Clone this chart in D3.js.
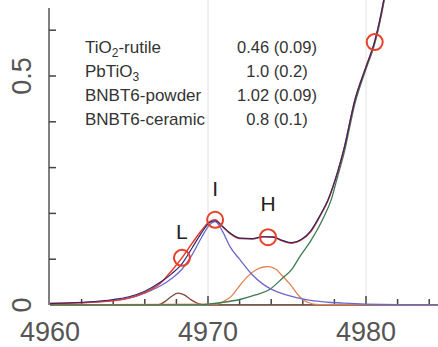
<!DOCTYPE html>
<html>
<head>
<meta charset="utf-8">
<script src="https://cdn.jsdelivr.net/npm/d3@7"></script>
<style>
  html, body { margin: 0; padding: 0; background: #fff; }
  svg { display: block; font-family: "Liberation Sans", Arial, sans-serif; }
</style>
</head>
<body>
<div id="chart"></div>
<script>
// ── Data ────────────────────────────────────────────────────
var energy = [4960, 4962, 4964, 4965, 4966, 4967, 4967.7, 4968.35, 4969, 4969.6, 4970.1, 4970.45,
  4970.9, 4971.4, 4972, 4972.8, 4973.5, 4974.1, 4974.7, 4975.3, 4975.9, 4976.5, 4977.1, 4977.6,
  4978.2, 4978.6, 4979.3, 4980, 4980.55, 4981.1, 4981.4];
var measured = [0.004, 0.005, 0.009, 0.015, 0.027, 0.048, 0.075, 0.103, 0.135, 0.163, 0.182, 0.186,
  0.172, 0.156, 0.145, 0.144, 0.149, 0.149, 0.140, 0.135, 0.142, 0.160, 0.195, 0.229,
  0.290, 0.340, 0.448, 0.520, 0.574, 0.660, 0.720];
var fitTotal = [0.003, 0.006, 0.012, 0.018, 0.030, 0.050, 0.068, 0.090, 0.125, 0.158, 0.180, 0.184,
  0.172, 0.157, 0.146, 0.145, 0.149, 0.148, 0.141, 0.136, 0.143, 0.162, 0.196, 0.230,
  0.290, 0.340, 0.448, 0.520, 0.576, 0.662, 0.722];

var peakIE = [4960, 4962, 4964, 4965, 4966, 4967, 4967.7, 4968.35, 4969, 4969.6, 4970.1, 4970.45,
  4970.9, 4971.4, 4972, 4972.8, 4973.5, 4974.1, 4974.7, 4975.3, 4975.9, 4976.5, 4977.6, 4978.6,
  4980, 4982, 4984.6];
var peakI = [0.003, 0.005, 0.010, 0.015, 0.026, 0.042, 0.058, 0.078, 0.110, 0.148, 0.175, 0.182,
  0.162, 0.127, 0.100, 0.066, 0.045, 0.033, 0.025, 0.019, 0.014, 0.010, 0.006, 0.004,
  0.002, 0.001, 0.001];

var peakLE = [4960, 4966.8, 4967.3, 4967.7, 4968.1, 4968.5, 4968.9, 4969.3, 4969.8, 4984.6];
var peakL = [0, 0, 0.008, 0.019, 0.026, 0.022, 0.012, 0.004, 0, 0];

var peakHE = [4960, 4970.5, 4971, 4971.5, 4972, 4972.5, 4973, 4973.5, 4973.85, 4974.3, 4974.7,
  4975.2, 4975.8, 4976.3, 4977, 4984.6];
var peakH = [0, 0.002, 0.008, 0.020, 0.042, 0.062, 0.076, 0.083, 0.084, 0.078, 0.064,
  0.045, 0.018, 0.006, 0.001, 0];

var edgeE = [4960, 4969, 4970, 4971, 4972, 4973, 4973.9, 4974.7, 4975.3, 4975.8, 4976.5, 4977.3,
  4977.8, 4978.2, 4978.6, 4979.3, 4980, 4980.55, 4981.1, 4981.4];
var edge = [0, 0, 0.002, 0.006, 0.012, 0.022, 0.034, 0.058, 0.078, 0.105, 0.140, 0.190,
  0.230, 0.280, 0.330, 0.440, 0.515, 0.570, 0.655, 0.715];

var markLabels = ["L", "I", "H", ""];
var markE = [4968.35, 4970.45, 4973.8, 4980.55];
var markY = [0.103, 0.186, 0.148, 0.574];
var labelY = [0.144, 0.238, 0.205, null];

var refNames = ["TiO|2|-rutile", "PbTiO|3|", "BNBT6-powder", "BNBT6-ceramic"];
var refValues = ["0.46 (0.09)", "1.0 (0.2)", "1.02 (0.09)", "0.8 (0.1)"];

var xTickLabels = [4960, 4970, 4980];
var yTickLabels = [0, 0.5];

// ── Layout ──────────────────────────────────────────────────
var W = 438, H = 347;
var x = d3.scaleLinear().domain([4960, 4980]).range([50, 366]);
var y = d3.scaleLinear().domain([0, 0.5]).range([305, 76]);
var xMax = x.invert(W);
var xTicks = d3.range(4962, xMax, 2);
var yTicks = d3.range(1, 7).map(function (k) { return k / 10; });

var svg = d3.select("#chart").append("svg").attr("width", W).attr("height", H);

svg.append("defs").append("clipPath").attr("id", "plot")
  .append("rect").attr("x", 50).attr("y", 0).attr("width", W - 50).attr("height", 305.5);

// grid lines
svg.selectAll(".grid").data([4970, 4980]).join("line")
  .attr("class", "grid")
  .attr("x1", function (d) { return x(d); }).attr("x2", function (d) { return x(d); })
  .attr("y1", 0).attr("y2", y(0))
  .attr("stroke", "#e2e2e2").attr("stroke-width", 1);

// ── Axes (inward ticks) ────────────────────────────────────
svg.append("line")
  .attr("x1", x(4960)).attr("x2", W).attr("y1", y(0)).attr("y2", y(0))
  .attr("stroke", "#666").attr("stroke-width", 1.5);
svg.append("line")
  .attr("x1", x(4960) - 1).attr("x2", x(4960) - 1).attr("y1", 8).attr("y2", y(0))
  .attr("stroke", "#555").attr("stroke-width", 1.5);

svg.selectAll(".xt").data(xTicks).join("line")
  .attr("class", "xt")
  .attr("x1", function (d) { return x(d); }).attr("x2", function (d) { return x(d); })
  .attr("y1", y(0)).attr("y2", function (d) { return y(0) - (d % 10 === 0 ? 9 : 6); })
  .attr("stroke", "#444").attr("stroke-width", 1.5);

svg.selectAll(".yt").data(yTicks).join("line")
  .attr("class", "yt")
  .attr("x1", x(4960) - 1).attr("x2", x(4960) + 6)
  .attr("y1", function (d) { return y(d); }).attr("y2", function (d) { return y(d); })
  .attr("stroke", "#444").attr("stroke-width", 1.5);

// tick labels
svg.selectAll(".xl").data(xTickLabels).join("text")
  .attr("class", "xl")
  .attr("x", function (d) { return x(d); }).attr("y", 341)
  .attr("text-anchor", "middle").attr("font-size", 27).attr("fill", "#555")
  .text(function (d) { return d; });

svg.selectAll(".yl").data(yTickLabels).join("text")
  .attr("class", "yl")
  .attr("transform", function (d) { return "translate(31," + y(d) + ") rotate(-90)"; })
  .attr("text-anchor", "middle").attr("font-size", 27).attr("fill", "#555")
  .text(function (d) { return d === 0 ? "0" : d3.format(".1f")(d); });

// ── Curves ─────────────────────────────────────────────────
function draw(xs, ys, color, width) {
  var line = d3.line()
    .x(function (d) { return x(d[0]); })
    .y(function (d) { return y(d[1]); })
    .curve(d3.curveMonotoneX);
  svg.append("path")
    .datum(xs.map(function (e, i) { return [e, ys[i]]; }))
    .attr("clip-path", "url(#plot)")
    .attr("fill", "none").attr("stroke", color).attr("stroke-width", width)
    .attr("d", line);
}
draw(peakLE, peakL, "#7d4a3a", 1.3);
draw(peakHE, peakH, "#e8804e", 1.3);
draw(edgeE, edge, "#3d7a50", 1.3);
draw(peakIE, peakI, "#6b68cc", 1.3);
draw(energy, measured, "#e8392a", 1.5);
draw(energy, fitTotal, "#2b2a6e", 1.2);

// markers
svg.selectAll(".mk").data(markE).join("circle")
  .attr("class", "mk")
  .attr("cx", function (d) { return x(d); })
  .attr("cy", function (d, i) { return y(markY[i]); })
  .attr("r", 8).attr("fill", "none").attr("stroke", "#e8402a").attr("stroke-width", 2);

svg.selectAll(".ml").data(markE).join("text")
  .attr("class", "ml")
  .attr("x", function (d) { return x(d); })
  .attr("y", function (d, i) { return labelY[i] === null ? 0 : y(labelY[i]); })
  .attr("text-anchor", "middle").attr("font-size", 21).attr("fill", "#222")
  .text(function (d, i) { return markLabels[i]; });

// ── Reference table ────────────────────────────────────────
var rows = svg.selectAll(".ref").data(refNames).join("text")
  .attr("class", "ref")
  .attr("x", 85).attr("y", function (d, i) { return 53 + i * 24; })
  .attr("font-size", 17).attr("fill", "#333");
rows.each(function (d) {
  var t = d3.select(this);
  d.split("|").forEach(function (part, k) {
    var s = t.append("tspan").text(part);
    if (k === 1) s.attr("font-size", 12).attr("dy", 4);
    if (k === 2) s.attr("dy", -4);
  });
});

svg.selectAll(".val").data(refValues).join("text")
  .attr("class", "val")
  .attr("x", 277).attr("y", function (d, i) { return 53 + i * 24; })
  .attr("text-anchor", "middle").attr("font-size", 16.5).attr("fill", "#333")
  .text(function (d) { return d; });
</script>
</body>
</html>
